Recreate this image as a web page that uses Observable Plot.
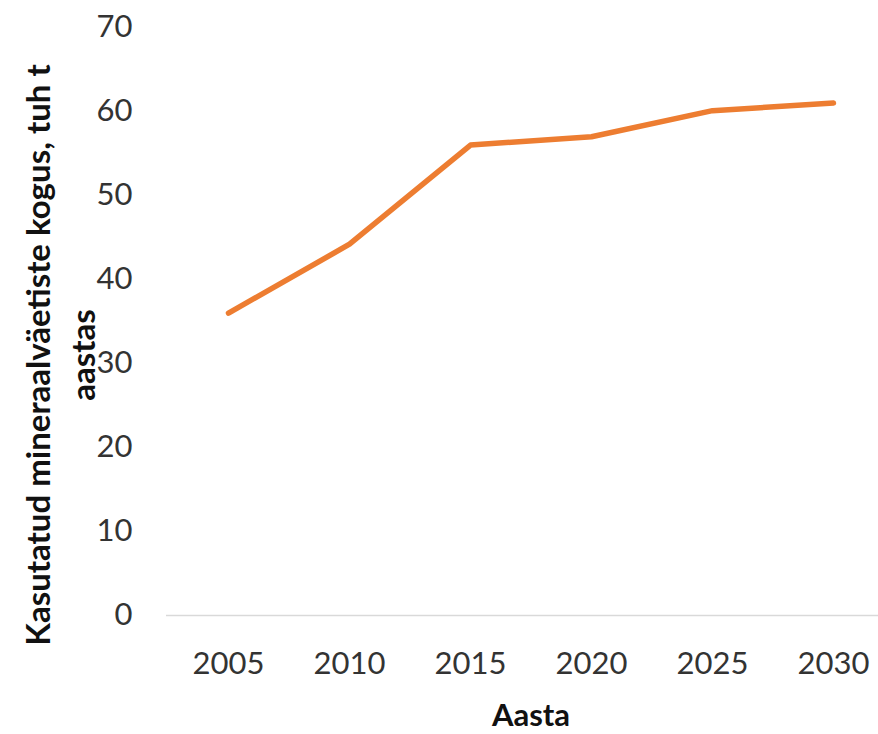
<!DOCTYPE html>
<html>
<head>
<meta charset="utf-8">
<script src="https://cdn.jsdelivr.net/npm/d3@7"></script>
<script src="https://cdn.jsdelivr.net/npm/@observablehq/plot@0.6"></script>
<style>
  html, body { margin: 0; padding: 0; background: #fff; }
  #chart svg { display: block; }
</style>
</head>
<body>
<div id="chart"></div>
<script>
const years = ["2005", "2010", "2015", "2020", "2025", "2030"];
const values = [36, 44.2, 56, 57, 60.1, 61];
const yTicks = [0, 10, 20, 30, 40, 50, 60, 70];
const yLabelLines = ["Kasutatud mineraalväetiste kogus, tuh t", "aastas"];
const xLabel = "Aasta";

const data = years.map((y, i) => ({year: y, value: values[i]}));

const W = 878, H = 734;
const plot = Plot.plot({
  width: W,
  height: H,
  marginLeft: 166,
  marginRight: 0,
  marginTop: 27,
  marginBottom: 119,
  style: {fontFamily: "Lato, sans-serif", fontSize: "31px", color: "#333", background: "#fff"},
  x: {type: "point", domain: years, range: [228, 833], padding: 0, label: null},
  y: {domain: [0, 70], label: null},
  marks: [
    Plot.ruleY([0], {stroke: "#d9d9d9", strokeWidth: 1.5}),
    Plot.axisX({tickSize: 0, tickPadding: 36, fontSize: 31, fill: "#333", label: null}),
    Plot.axisY({ticks: yTicks, tickSize: 0, tickPadding: 34, fontSize: 31, fill: "#333", label: null}),
    Plot.line(data, {x: "year", y: "value", stroke: "#ED7D31", strokeWidth: 5.5, strokeLinecap: "round", strokeLinejoin: "round"})
  ]
});

const svg = d3.select(plot);
const lineX = [50, 95];
yLabelLines.forEach((t, i) => {
  svg.append("text")
    .attr("transform", `translate(${lineX[i]},355) rotate(-90)`)
    .attr("text-anchor", "middle")
    .attr("font-family", "Lato, sans-serif")
    .attr("font-weight", "bold")
    .attr("font-size", 33)
    .attr("fill", "#111")
    .text(t);
});
svg.append("text")
  .attr("x", 531)
  .attr("y", 726)
  .attr("text-anchor", "middle")
  .attr("font-family", "Lato, sans-serif")
  .attr("font-weight", "bold")
  .attr("font-size", 31)
  .attr("fill", "#111")
  .text(xLabel);

document.getElementById("chart").appendChild(plot);
</script>
</body>
</html>
